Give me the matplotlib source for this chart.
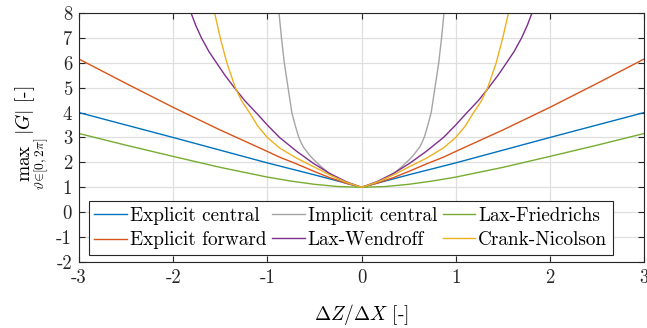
import matplotlib
matplotlib.use('Agg')
import matplotlib.pyplot as plt

plt.rcParams['font.family'] = ['cmr10', 'DejaVu Serif']
plt.rcParams['mathtext.fontset'] = 'cm'
plt.rcParams['axes.unicode_minus'] = False

# values (x = dZ/dX, y = max |G|)
x_ec = [-3, -2, -1, -0.5, 0, 0.5, 1, 2, 3]
y_ec = [4.0, 3.0, 1.98, 1.5, 1.0, 1.5, 1.98, 3.0, 4.0]

x_ef = [-3, -2.5, -2, -1.5, -1, -0.87, -0.69, -0.51, -0.34, -0.16, 0,
        0.16, 0.34, 0.51, 0.69, 0.87, 1, 1.5, 2, 2.5, 3]
y_ef = [6.15, 5.17, 4.21, 3.30, 2.44, 2.21, 1.94, 1.65, 1.39, 1.16, 1.0,
        1.16, 1.39, 1.65, 1.94, 2.21, 2.44, 3.30, 4.21, 5.17, 6.15]

x_ic = [-0.89, -0.876, -0.85, -0.82, -0.78, -0.74, -0.705, -0.67, -0.645, -0.62, -0.56, -0.51,
        -0.44, -0.37, -0.30, -0.23, -0.1, 0,
        0.1, 0.23, 0.30, 0.37, 0.44, 0.51, 0.56, 0.62, 0.645, 0.67, 0.705, 0.74, 0.78, 0.82,
        0.85, 0.876, 0.89]
y_ic = [8.8, 8.0, 7.0, 6.0, 5.0, 4.0, 3.5, 3.05, 2.82, 2.63, 2.33, 2.12,
        1.87, 1.64, 1.45, 1.30, 1.12, 1.0,
        1.12, 1.30, 1.45, 1.64, 1.87, 2.12, 2.33, 2.63, 2.82, 3.05, 3.5, 4.0, 5.0, 6.0,
        7.0, 8.0, 8.8]

x_lw = [-1.88, -1.81, -1.76, -1.70, -1.62, -1.54, -1.45, -1.35, -1.24, -1.12, -1.0, -0.87,
        -0.69, -0.51, -0.34, -0.16, 0,
        0.16, 0.34, 0.51, 0.69, 0.87, 1.0, 1.12, 1.24, 1.35, 1.45, 1.54, 1.62, 1.70, 1.76,
        1.81, 1.88]
y_lw = [8.7, 8.0, 7.5, 7.0, 6.45, 6.0, 5.5, 5.0, 4.48, 4.0, 3.5, 3.0,
        2.45, 1.96, 1.56, 1.22, 1.0,
        1.22, 1.56, 1.96, 2.45, 3.0, 3.5, 4.0, 4.48, 5.0, 5.5, 6.0, 6.45, 7.0, 7.5,
        8.0, 8.7]

x_lf = [-3, -2.5, -2, -1.5, -1, -0.75, -0.5, -0.25, 0, 0.25, 0.5, 0.75, 1, 1.5, 2, 2.5, 3]
y_lf = [3.16, 2.69, 2.24, 1.80, 1.41, 1.25, 1.12, 1.03, 1.0, 1.03, 1.12, 1.25, 1.41, 1.80, 2.24, 2.69, 3.16]

x_cn = [-1.58, -1.56, -1.50, -1.43, -1.34, -1.27, -1.19, -1.10, -1.0, -0.87, -0.69, -0.51,
        -0.34, -0.16, 0,
        0.16, 0.34, 0.51, 0.69, 0.87, 1.0, 1.10, 1.19, 1.27, 1.34, 1.43, 1.50, 1.56, 1.58]
y_cn = [8.5, 8.0, 7.0, 6.0, 5.0, 4.45, 4.0, 3.45, 3.0, 2.58, 2.17, 1.83,
        1.5, 1.2, 1.0,
        1.2, 1.5, 1.83, 2.17, 2.58, 3.0, 3.45, 4.0, 4.45, 5.0, 6.0, 7.0, 8.0, 8.5]

labels = ['Explicit central', 'Explicit forward', 'Implicit central',
          'Lax-Wendroff', 'Lax-Friedrichs', 'Crank-Nicolson']
colors = ['#0072BD', '#D95319', '#A5A5A5', '#7E2F8E', '#77AC30', '#EDB120']

fig = plt.figure(figsize=(6.47, 3.28), dpi=100)
ax = fig.add_axes([0.1221, 0.2012, 0.8733, 0.7592])

series = [(x_ec, y_ec), (x_ef, y_ef), (x_ic, y_ic), (x_lw, y_lw), (x_lf, y_lf), (x_cn, y_cn)]
for (xs, ys), lab, c in zip(series, labels, colors):
    ax.plot(xs, ys, color=c, lw=1.0, label=lab)

ax.set_xlim(-3, 3)
ax.set_ylim(-2, 8)
xt = [-3, -2, -1, 0, 1, 2, 3]
yt = [-2, -1, 0, 1, 2, 3, 4, 5, 6, 7, 8]
ax.set_xticks(xt)
ax.set_yticks(yt)
ax.set_xticklabels([str(v) for v in xt])
ax.set_yticklabels([str(v) for v in yt])
ax.grid(True, color='#DFDFDF', lw=0.9)
ax.set_axisbelow(True)
ax.tick_params(direction='in', top=True, right=True, length=4, width=0.8,
               colors='#262626', labelsize=13.5, pad=5)
for s in ax.spines.values():
    s.set_color('#262626')
    s.set_linewidth(0.8)

ax.set_xlabel(r'$\Delta Z/\Delta X$ [-]', fontsize=14, labelpad=11)
ax.set_ylabel(r'$\max_{\vartheta\in[0,2\pi]}\,|G|$ [-]', fontsize=14, labelpad=4)

leg = ax.legend(ncol=3, loc='lower left', bbox_to_anchor=(0.017, 0.028),
                fontsize=13.8, handlelength=1.7, handletextpad=0.15,
                columnspacing=0.3, labelspacing=0.33, borderpad=0.3,
                borderaxespad=0, fancybox=False, framealpha=1)
leg.get_frame().set_edgecolor('#262626')
leg.get_frame().set_linewidth(0.8)

fig.savefig('out.png', dpi=100)
